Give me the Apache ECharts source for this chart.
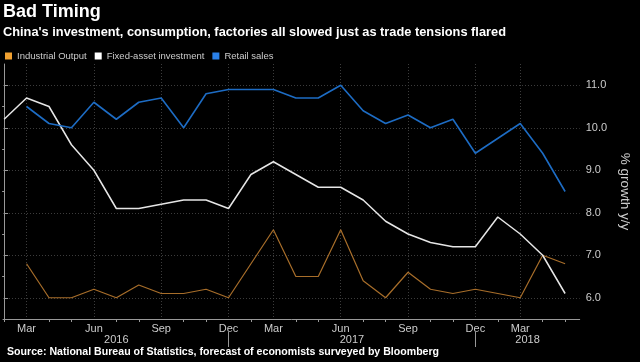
<!DOCTYPE html>
<html><head><meta charset="utf-8">
<script src="https://cdn.jsdelivr.net/npm/echarts@6/dist/echarts.min.js"></script>
<style>html,body{margin:0;padding:0;background:#000;}#c{width:640px;height:362px;}</style>
</head><body><div id="c"></div>
<script>
// Monthly points (China reports Jan-Feb combined, so no January)
const months = ['Feb','Mar','Apr','May','Jun','Jul','Aug','Sep','Oct','Nov','Dec',
                'Feb','Mar','Apr','May','Jun','Jul','Aug','Sep','Oct','Nov','Dec',
                'Feb','Mar','Apr','May'];
const years  = ['2016','2016','2016','2016','2016','2016','2016','2016','2016','2016','2016',
                '2017','2017','2017','2017','2017','2017','2017','2017','2017','2017','2017',
                '2018','2018','2018','2018'];
const industrialOutput = [null,6.8,6.0,6.0,6.2,6.0,6.3,6.1,6.1,6.2,6.0,
                          null,7.6,6.5,6.5,7.6,6.4,6.0,6.6,6.2,6.1,6.2,
                          null,6.0,7.0,6.8];
const fixedAssetInvestment = [10.2,10.7,10.5,9.6,9.0,8.1,8.1,8.2,8.3,8.3,8.1,
                              8.9,9.2,8.9,8.6,8.6,8.3,7.8,7.5,7.3,7.2,7.2,
                              7.9,7.5,7.0,6.1];
const retailSales = [null,10.5,10.1,10.0,10.6,10.2,10.6,10.7,10.0,10.8,10.9,
                     null,10.9,10.7,10.7,11.0,10.4,10.1,10.3,10.0,10.2,9.4,
                     null,10.1,9.4,8.5];
const labeledMonths = ['Mar','Jun','Sep','Dec'];
const yTickValues = [6,7,8,9,10,11];
const seriesNames = ['Industrial Output','Fixed-asset investment','Retail sales'];

const X_MIN = -0.05, X_MAX = 25.65, Y_MIN = 5.5, Y_MAX = 11.5;

const idx = months.map((m,i)=>i);
const labelIdx = idx.filter(i => labeledMonths.includes(months[i]));
const minorIdx = idx.filter(i => !labeledMonths.includes(months[i]));
const uniqYears = [...new Set(years)];
const decIdx = uniqYears.map(y => { const l = idx.filter(i => years[i]===y && months[i]==='Dec'); return l.length ? l[0] : null; });
const sepIdx = decIdx.filter(v => v !== null);
const yearCenters = uniqYears.map((y,k) => {
  const start = k === 0 ? idx.find(i => years[i]===y) : decIdx[k-1];
  const end = decIdx[k] !== null ? decIdx[k] : X_MAX;
  return (start + end) / 2;
});
const yearAt = v => { const k = yearCenters.findIndex(c => Math.abs(c - v) < 1e-6); return k >= 0 ? uniqYears[k] : ''; };
const yMinor = yTickValues.slice(0,-1).map(v => v + 0.5);

const pairs = arr => arr.map((v,i) => [i, v]);
const FONT = 'Liberation Sans';
const gridStyle = {color:'#3c3c3c', type:[1,2], width:1};

const chart = echarts.init(document.getElementById('c'), null, {renderer:'canvas'});
chart.setOption({
  backgroundColor:'#000',
  animation:false,
  title:[
    {text:'Bad Timing', left:3, top:3, padding:0,
     textStyle:{color:'#fff', fontSize:18, fontWeight:'bold', fontFamily:FONT}},
    {text:"China's investment, consumption, factories all slowed just as trade tensions flared", left:3, top:26, padding:0,
     textStyle:{color:'#fff', fontSize:12.8, fontWeight:'bold', fontFamily:FONT}},
    {text:'Source: National Bureau of Statistics, forecast of economists surveyed by Bloomberg', left:7, top:347, padding:0,
     textStyle:{color:'#fff', fontSize:10.6, fontWeight:'bold', fontFamily:FONT}}
  ],
  legend:{
    left:5, top:51, padding:0, itemWidth:7, itemHeight:7, itemGap:8, icon:'rect',
    textStyle:{color:'#ccc', fontSize:9.5, fontFamily:FONT},
    data:[
      {name:seriesNames[0], itemStyle:{color:'#f0a030'}},
      {name:seriesNames[1], itemStyle:{color:'#ffffff'}},
      {name:seriesNames[2], itemStyle:{color:'#2a80e8'}}
    ]
  },
  grid:{left:3, right:46, top:64, bottom:43, containLabel:false},
  xAxis:[
    {type:'value', min:X_MIN, max:X_MAX, position:'bottom',
     axisLine:{show:true, lineStyle:{color:'#999', width:1}},
     axisTick:{show:false, customValues:labelIdx},
     axisLabel:{customValues:labelIdx, formatter:v => months[Math.round(v)], color:'#ccc', fontSize:11, fontFamily:FONT, margin:4},
     splitLine:{show:true, lineStyle:gridStyle}},
    {type:'value', min:X_MIN, max:X_MAX, position:'bottom',
     axisLine:{show:false}, axisTick:{show:true, customValues:minorIdx, length:3, lineStyle:{color:'#999'}},
     axisLabel:{show:false}, splitLine:{show:false}},
    {type:'value', min:X_MIN, max:X_MAX, position:'bottom', offset:13,
     axisLine:{show:false}, axisTick:{show:true, customValues:sepIdx, length:15, lineStyle:{color:'#999'}},
     axisLabel:{customValues:yearCenters, formatter:v => yearAt(v), color:'#ccc', fontSize:11, fontFamily:FONT, margin:2},
     splitLine:{show:false}}
  ],
  yAxis:[
    {type:'value', min:Y_MIN, max:Y_MAX, position:'right',
     axisLine:{show:true, lineStyle:{color:'#999', width:1}},
     axisTick:{show:true, customValues:yTickValues, length:4, lineStyle:{color:'#999'}},
     axisLabel:{customValues:yTickValues, formatter:v => v.toFixed(1), color:'#ccc', fontSize:11, fontFamily:FONT, margin:6},
     splitLine:{show:true, lineStyle:gridStyle},
     name:'% growth y/y', nameLocation:'middle', nameRotate:-90, nameGap:38,
     nameTextStyle:{color:'#ccc', fontSize:13.5, fontFamily:FONT}},
    {type:'value', min:Y_MIN, max:Y_MAX, position:'right',
     axisLine:{show:false}, axisTick:{show:true, inside:true, customValues:yMinor, length:2, lineStyle:{color:'#999'}},
     axisLabel:{show:false}, splitLine:{show:false}}
  ],
  series:[
    {name:seriesNames[0], type:'line', data:pairs(industrialOutput), xAxisIndex:0, yAxisIndex:0,
     symbol:'none', connectNulls:true, lineStyle:{color:'#a86e2a', width:1.2}, itemStyle:{color:'#a86e2a'}},
    {name:seriesNames[1], type:'line', data:pairs(fixedAssetInvestment), xAxisIndex:0, yAxisIndex:0,
     symbol:'none', connectNulls:true, lineStyle:{color:'#e6e6e6', width:1.5}, itemStyle:{color:'#e6e6e6'}},
    {name:seriesNames[2], type:'line', data:pairs(retailSales), xAxisIndex:0, yAxisIndex:0,
     symbol:'none', connectNulls:true, lineStyle:{color:'#1d6cc4', width:1.6}, itemStyle:{color:'#1d6cc4'}}
  ]
});
</script></body></html>
